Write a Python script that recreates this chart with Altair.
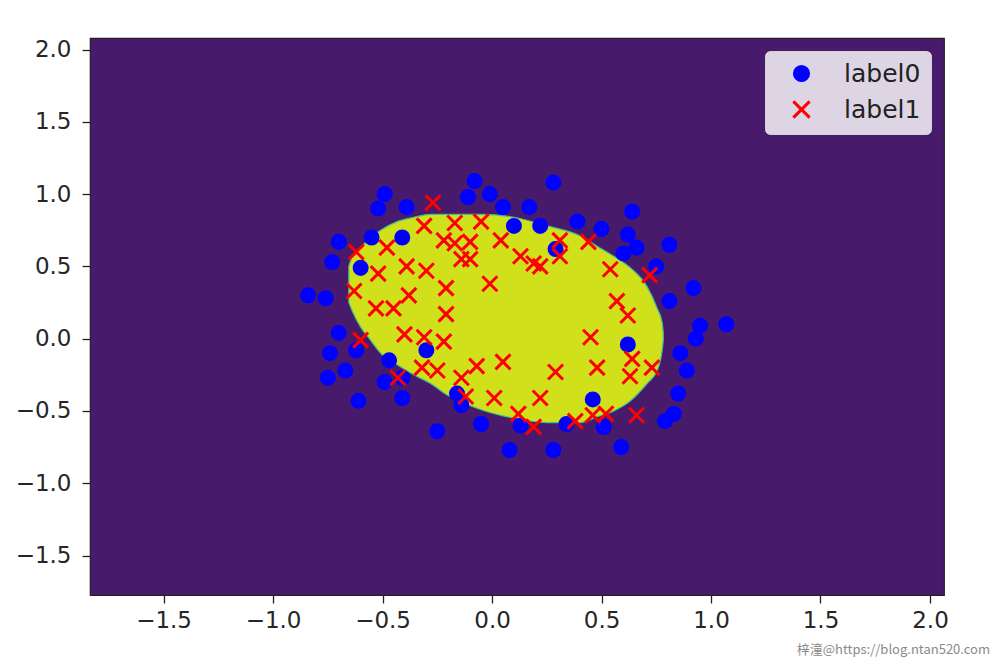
import altair as alt
import pandas as pd

# ---- data ----
blue_x = [-0.08, 0.28, -0.49, -0.11, -0.01, -0.52, -0.39, 0.05, 0.17, 0.64,
          0.10, 0.22, 0.39, 0.50, -0.70, -0.55, -0.41, 0.62, 0.81, 0.60,
          0.66, 0.29, -0.73, -0.60, 0.75, -0.84, -0.76, 0.92, 0.81, 0.95,
          1.07, 0.93, -0.70, 0.62, -0.30, -0.74, -0.62, 0.86, -0.47, -0.67,
          0.89, -0.75, -0.49, -0.41, -0.16, -0.14, -0.41, -0.61, 0.46, 0.85,
          -0.05, 0.13, 0.34, 0.51, 0.83, 0.79, -0.25, 0.08, 0.28, 0.59]
blue_y = [1.09, 1.08, 1.00, 0.98, 1.00, 0.90, 0.91, 0.91, 0.91, 0.88,
          0.78, 0.78, 0.81, 0.76, 0.67, 0.70, 0.70, 0.72, 0.65, 0.59,
          0.63, 0.62, 0.53, 0.49, 0.50, 0.30, 0.28, 0.35, 0.26, 0.09,
          0.10, 0.00, 0.04, -0.04, -0.08, -0.10, -0.08, -0.10, -0.15, -0.22,
          -0.22, -0.27, -0.30, -0.27, -0.38, -0.46, -0.41, -0.43, -0.42, -0.38,
          -0.59, -0.60, -0.59, -0.61, -0.52, -0.57, -0.64, -0.77, -0.77, -0.75]

red_x = [-0.27, -0.31, -0.17, -0.05, -0.22, -0.17, -0.10, -0.14, -0.10, 0.04,
         -0.62, -0.48, -0.52, -0.39, -0.30, -0.21, -0.01, -0.63, -0.38, -0.53,
         -0.45, -0.21, 0.13, 0.19, 0.22, 0.31, 0.31, 0.44, 0.54, 0.72,
         0.57, 0.62, -0.60, -0.40, -0.31, -0.22, 0.45, -0.32, -0.25, -0.43,
         -0.14, -0.07, 0.05, 0.29, 0.48, 0.64, 0.63, 0.73, -0.12, 0.01,
         0.22, 0.12, 0.19, 0.38, 0.46, 0.52, 0.66]
red_y = [0.94, 0.78, 0.80, 0.81, 0.68, 0.66, 0.67, 0.55, 0.55, 0.68,
         0.60, 0.63, 0.45, 0.50, 0.47, 0.35, 0.38, 0.33, 0.30, 0.21,
         0.21, 0.17, 0.57, 0.52, 0.50, 0.68, 0.57, 0.67, 0.48, 0.44,
         0.26, 0.16, -0.01, 0.03, 0.01, -0.02, 0.01, -0.20, -0.22, -0.27,
         -0.27, -0.19, -0.16, -0.23, -0.20, -0.14, -0.26, -0.20, -0.40, -0.41,
         -0.41, -0.52, -0.61, -0.57, -0.53, -0.52, -0.53]

# decision region (class 1) boundary: upper and lower edge along x
region_x = [-0.654, -0.638, -0.600, -0.555, -0.509, -0.433, -0.357, -0.281, -0.205, -0.053,
            0.100, 0.252, 0.404, 0.480, 0.556, 0.632, 0.708, 0.754, 0.777, 0.782]
region_top = [0.50, 0.57, 0.63, 0.70, 0.75, 0.81, 0.84, 0.86, 0.86, 0.86,
              0.84, 0.78, 0.71, 0.64, 0.57, 0.49, 0.36, 0.21, 0.11, 0.04]
region_bottom = [0.25, 0.19, 0.08, -0.01, -0.10, -0.18, -0.25, -0.31, -0.39, -0.49,
                 -0.55, -0.58, -0.58, -0.54, -0.50, -0.43, -0.31, -0.22, -0.08, -0.01]

labels = ["label0", "label1"]
x_domain = [-1.836, 2.064]
y_domain = [-1.773, 2.08]
ticks = [-1.5, -1.0, -0.5, 0.0, 0.5, 1.0, 1.5, 2.0]

points = pd.DataFrame({
    "x": blue_x + red_x,
    "y": blue_y + red_y,
    "label": [labels[0]] * len(blue_x) + [labels[1]] * len(red_x),
})
region = pd.DataFrame({"x": region_x, "top": region_top, "bottom": region_bottom})

xscale = alt.Scale(domain=x_domain, nice=False, zero=False)
yscale = alt.Scale(domain=y_domain, nice=False, zero=False)
xaxis = alt.Axis(values=ticks, format=".1f", title=None, grid=False, labelPadding=6)
yaxis = alt.Axis(values=ticks, format=".1f", title=None, grid=False, labelPadding=11)

area = alt.Chart(region).mark_area(
    color="#d0e11c", stroke="#3fbf8c", strokeWidth=1.2, interpolate="monotone"
).encode(
    x=alt.X("x:Q", scale=xscale, axis=xaxis),
    y=alt.Y("top:Q", scale=yscale, axis=yaxis),
    y2="bottom:Q",
)

X_PATH = "M-1.15,-1.15L1.15,1.15M-1.15,1.15L1.15,-1.15"

scatter = alt.Chart(points).mark_point(strokeWidth=3, opacity=1, size=170).encode(
    x=alt.X("x:Q", scale=xscale),
    y=alt.Y("y:Q", scale=yscale),
    stroke=alt.Stroke("label:N", scale=alt.Scale(domain=labels, range=["#0000ff", "#ff0000"]),
                      legend=alt.Legend(title=None)),
    fill=alt.Fill("label:N", scale=alt.Scale(domain=labels, range=["#0000ff", "transparent"]),
                  legend=alt.Legend(title=None)),
    shape=alt.Shape("label:N", scale=alt.Scale(domain=labels, range=["circle", X_PATH]),
                    legend=alt.Legend(title=None)),
)

watermark = alt.Chart(pd.DataFrame({"t": ["梓潼@https://blog.ntan520.com"]})).mark_text(
    align="right", baseline="middle", font="Noto Sans CJK SC", fontSize=13, color="#8a8a8a"
).encode(text="t:N", x=alt.value(900), y=alt.value(612))

chart = alt.layer(area, scatter, watermark).properties(
    width=854, height=557,
    autosize=alt.AutoSizeParams(type="none"),
    padding={"left": 90, "top": 38, "right": 56, "bottom": 72},
).configure_view(
    fill="#481a6c", stroke="#222222", strokeWidth=1.2
).configure_axis(
    domain=False, tickColor="#222222", tickSize=8, tickWidth=1.3,
    labelFont="DejaVu Sans", labelFontSize=23, labelColor="#262626",
).configure_legend(
    orient="top-right", offset=13, fillColor="rgba(255,255,255,0.82)",
    strokeColor="rgba(220,220,220,0.9)", cornerRadius=5, padding=10,
    labelFont="DejaVu Sans", labelFontSize=25, labelColor="#222222",
    symbolSize=200, symbolStrokeWidth=3, symbolOffset=14, labelOffset=30, rowPadding=8,
)

chart.save("out.html", embed_options={"renderer": "svg", "actions": False})
